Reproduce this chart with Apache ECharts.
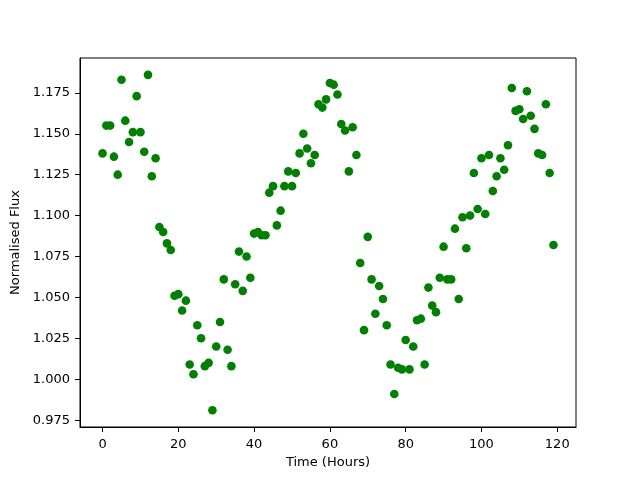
<!DOCTYPE html>
<html>
<head>
<meta charset="utf-8">
<script src="https://cdn.jsdelivr.net/npm/echarts@6/dist/echarts.min.js"></script>
<style>
  html, body { margin: 0; padding: 0; background: #fff; }
  #chart { width: 640px; height: 480px; }
</style>
</head>
<body>
<div id="chart"></div>
<script>
// time in hours
var hours = [
  0, 1, 2, 3, 4, 5, 6, 7, 8, 9, 10, 11, 12, 13, 14, 15, 16, 17, 18, 19,
  20, 21, 22, 23, 24, 25, 26, 27, 28, 29, 30, 31, 32, 33, 34, 35, 36, 37, 38, 39,
  40, 41, 42, 43, 44, 45, 46, 47, 48, 49, 50, 51, 52, 53, 54, 55, 56, 57, 58, 59,
  60, 61, 62, 63, 64, 65, 66, 67, 68, 69, 70, 71, 72, 73, 74, 75, 76, 77, 78, 79,
  80, 81, 82, 83, 84, 85, 86, 87, 88, 89, 90, 91, 92, 93, 94, 95, 96, 97, 98, 99,
  100, 101, 102, 103, 104, 105, 106, 107, 108, 109, 110, 111, 112, 113, 114, 115, 116, 117, 118, 119
]
// normalised flux
var flux = [
  1.138, 1.155, 1.155, 1.136, 1.125, 1.183, 1.158, 1.145, 1.151, 1.173,
  1.151, 1.139, 1.186, 1.124, 1.135, 1.093, 1.090, 1.083, 1.079, 1.051,
  1.052, 1.042, 1.048, 1.009, 1.003, 1.033, 1.025, 1.008, 1.010, 0.981,
  1.020, 1.035, 1.061, 1.018, 1.008, 1.058, 1.078, 1.054, 1.075, 1.062,
  1.089, 1.090, 1.088, 1.088, 1.114, 1.118, 1.094, 1.103, 1.118, 1.127,
  1.118, 1.126, 1.138, 1.150, 1.141, 1.132, 1.137, 1.168, 1.166, 1.171,
  1.181, 1.180, 1.174, 1.156, 1.152, 1.127, 1.154, 1.137, 1.071, 1.030,
  1.087, 1.061, 1.040, 1.057, 1.049, 1.033, 1.009, 0.991, 1.007, 1.006,
  1.024, 1.006, 1.020, 1.036, 1.037, 1.009, 1.056, 1.045, 1.041, 1.062,
  1.081, 1.061, 1.061, 1.092, 1.049, 1.099, 1.080, 1.100, 1.126, 1.104,
  1.135, 1.101, 1.137, 1.115, 1.124, 1.135, 1.128, 1.143, 1.178, 1.164,
  1.165, 1.159, 1.176, 1.161, 1.153, 1.138, 1.137, 1.168, 1.126, 1.082
]
var xTicks = [0, 20, 40, 60, 80, 100, 120]
var yTicks = [0.975, 1.000, 1.025, 1.050, 1.075, 1.100, 1.125, 1.150, 1.175]

const chart = echarts.init(document.getElementById('chart'), null, { renderer: 'canvas' })

const font = 'DejaVu Sans'
const points = hours.map((h, i) => [h, flux[i]])

chart.setOption({
  backgroundColor: '#ffffff',
  animation: false,
  textStyle: { fontFamily: font },
  grid: {
    left: 80,
    right: 64,
    top: 58,
    bottom: 53,
    show: true,
    borderColor: '#000',
    borderWidth: 1
  },
  xAxis: {
    type: 'value',
    min: -5.95,
    max: 124.95,
    name: 'Time (Hours)',
    nameLocation: 'middle',
    nameGap: 29,
    nameTextStyle: { color: '#000', fontSize: 13, fontFamily: font },
    axisLine: { show: true, onZero: false, lineStyle: { color: '#000', width: 1 } },
    axisTick: { show: true, length: 5, customValues: xTicks, lineStyle: { color: '#000' } },
    axisLabel: { color: '#000', fontSize: 13, margin: 11, customValues: xTicks, fontFamily: font },
    splitLine: { show: false }
  },
  yAxis: {
    type: 'value',
    min: 0.9708,
    max: 1.1963,
    name: 'Normalised Flux',
    nameLocation: 'middle',
    nameGap: 57,
    nameTextStyle: { color: '#000', fontSize: 13, fontFamily: font },
    axisLine: { show: true, onZero: false, lineStyle: { color: '#000', width: 1 } },
    axisTick: { show: true, length: 5, customValues: yTicks, lineStyle: { color: '#000' } },
    axisLabel: {
      color: '#000',
      fontSize: 13,
      margin: 10,
      customValues: yTicks,
      fontFamily: font,
      formatter(value) {
        return value.toFixed(3)
      }
    },
    splitLine: { show: false }
  },
  series: [
    {
      type: 'scatter',
      data: points,
      symbolSize: 8.6,
      itemStyle: { color: '#008000', opacity: 1 }
    }
  ]
})
</script>
</body>
</html>
